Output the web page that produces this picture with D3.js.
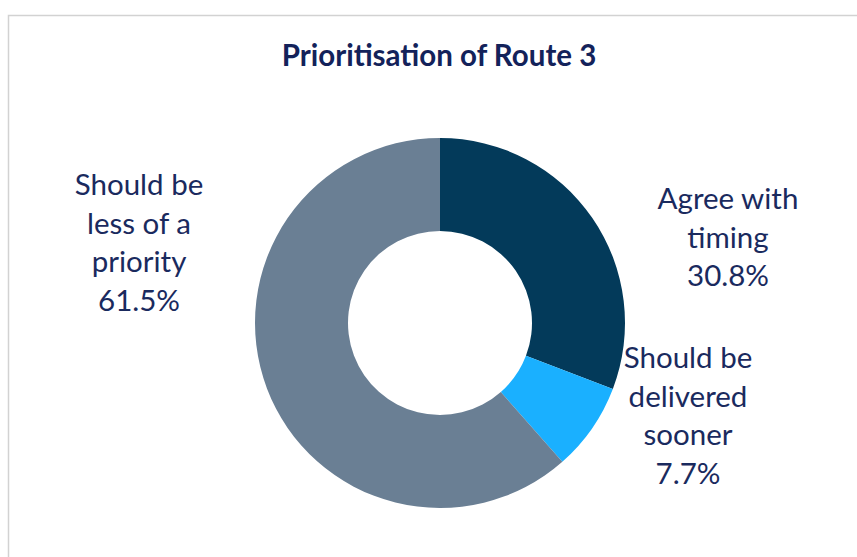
<!DOCTYPE html>
<html><head><meta charset="utf-8">
<script src="https://cdn.jsdelivr.net/npm/d3@7"></script>
<style>html,body{margin:0;padding:0;background:#fff;}svg{display:block;}</style>
</head><body>
<svg id="chart" width="857" height="557"></svg>
<script>
const categories = ["Agree with timing", "Should be delivered sooner", "Should be less of a priority"];
const values = [30.8, 7.7, 61.5];
const labelLines = [["Agree with", "timing", "30.8%"], ["Should be", "delivered", "sooner", "7.7%"], ["Should be", "less of a", "priority", "61.5%"]];
const colors = ["#033A5A", "#1AB0FF", "#6A7F94"];
const title = "Prioritisation of Route 3";

const svg = d3.select("#chart");
const W = 857, H = 557;
svg.append("rect").attr("x", 8.5).attr("y", 15.5).attr("width", W + 10).attr("height", H + 10)
  .attr("fill", "#fff").attr("stroke", "#d2d2d2").attr("stroke-width", 1.5);

svg.append("text").attr("x", 439).attr("y", 66).attr("text-anchor", "middle")
  .attr("font-family", "Lato, sans-serif").attr("font-weight", "bold").attr("font-size", 29.5)
  .attr("font-variant-ligatures", "none")
  .attr("fill", "#13225A").text(title);

const cx = 440, cy = 323, R = 185, r = 92;
const pie = d3.pie().sort(null).value(d => d);
const arc = d3.arc().innerRadius(r).outerRadius(R);
const g = svg.append("g").attr("transform", `translate(${cx},${cy})`);
const arcs = pie(values);
g.selectAll("path").data(arcs).join("path").attr("d", arc).attr("fill", (d, i) => colors[i]);

// label anchor offsets relative to centre (Excel-style placed labels)
const labelPos = [[288, -114], [248, 45], [-301, -128]];
const lh = 38.7;
labelLines.forEach((lines, i) => {
  const t = g.append("text").attr("text-anchor", "middle")
    .attr("font-family", "Lato, sans-serif").attr("font-size", 29.5).attr("fill", "#1A2A5E")
    .attr("font-variant-ligatures", "none");
  lines.forEach((s, j) => {
    t.append("tspan").attr("x", labelPos[i][0]).attr("y", labelPos[i][1] + j * lh).text(s);
  });
});
</script>
</body></html>
